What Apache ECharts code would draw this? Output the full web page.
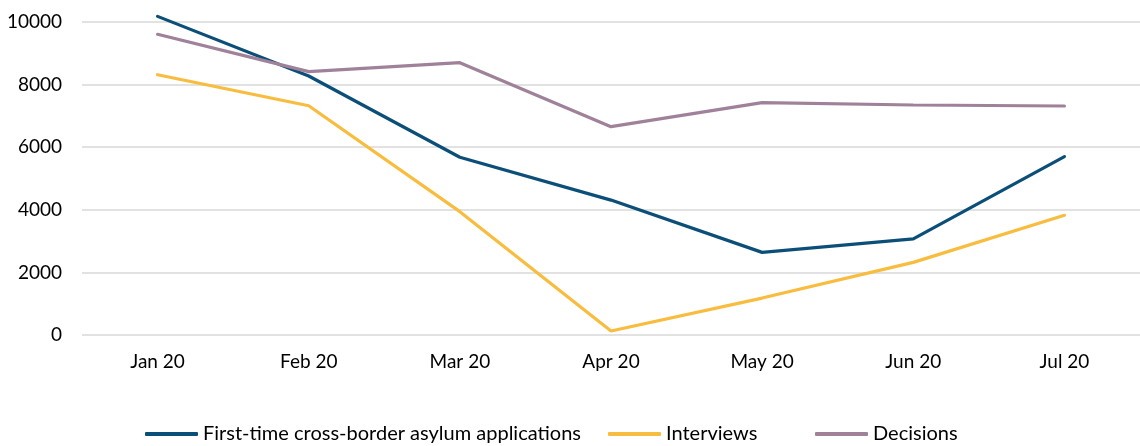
<!DOCTYPE html>
<html><head><meta charset="utf-8">
<script src="https://cdn.jsdelivr.net/npm/echarts@6/dist/echarts.min.js"></script>
<style>html,body{margin:0;padding:0;background:#fff}#c{width:1140px;height:446px}</style>
</head><body><div id="c"></div>
<script>
const categories = ['Jan 20','Feb 20','Mar 20','Apr 20','May 20','Jun 20','Jul 20'];
const firstTime = [10180, 8275, 5680, 4310, 2640, 3070, 5700];
const interviews = [8316, 7326, 3940, 128, 1180, 2320, 3824];
const decisions = [9607, 8413, 8700, 6655, 7422, 7348, 7316];
const seriesNames = ['First-time cross-border asylum applications','Interviews','Decisions'];
const colors = ['#0b4f78','#f8bc3f','#9f8299'];
const font = 'Lato';
const legendLefts = [145, 608, 815];
const chart = echarts.init(document.getElementById('c'));
const mk = (name, data, color) => ({name, type:'line', data, symbol:'none', clip:false, lineStyle:{width:3.2, color, cap:'round'}, itemStyle:{color}, animation:false});
chart.setOption({
  animation:false,
  grid:{left:82, right:-7, top:22, bottom:111, containLabel:false},
  legend: seriesNames.map((n,i)=>({top:424, left:legendLefts[i], padding:0, itemWidth:53, itemHeight:4, icon:'roundRect',
    textStyle:{fontFamily:font, fontSize:20, color:'#000'}, data:[n]})),
  xAxis:{type:'category', data:categories, boundaryGap:true,
    axisLine:{show:false}, axisTick:{show:false},
    axisLabel:{fontFamily:font, fontSize:19, color:'#000', margin:17}},
  yAxis:{type:'value', min:0, max:10000, interval:2000,
    axisLine:{show:false}, axisTick:{show:false},
    axisLabel:{fontFamily:font, fontSize:19, color:'#000', margin:20, formatter:v=>String(v)},
    splitLine:{lineStyle:{color:'#d9d9d9', width:1.5}}},
  series:[mk(seriesNames[0], firstTime, colors[0]), mk(seriesNames[1], interviews, colors[1]), mk(seriesNames[2], decisions, colors[2])]
});
</script></body></html>
